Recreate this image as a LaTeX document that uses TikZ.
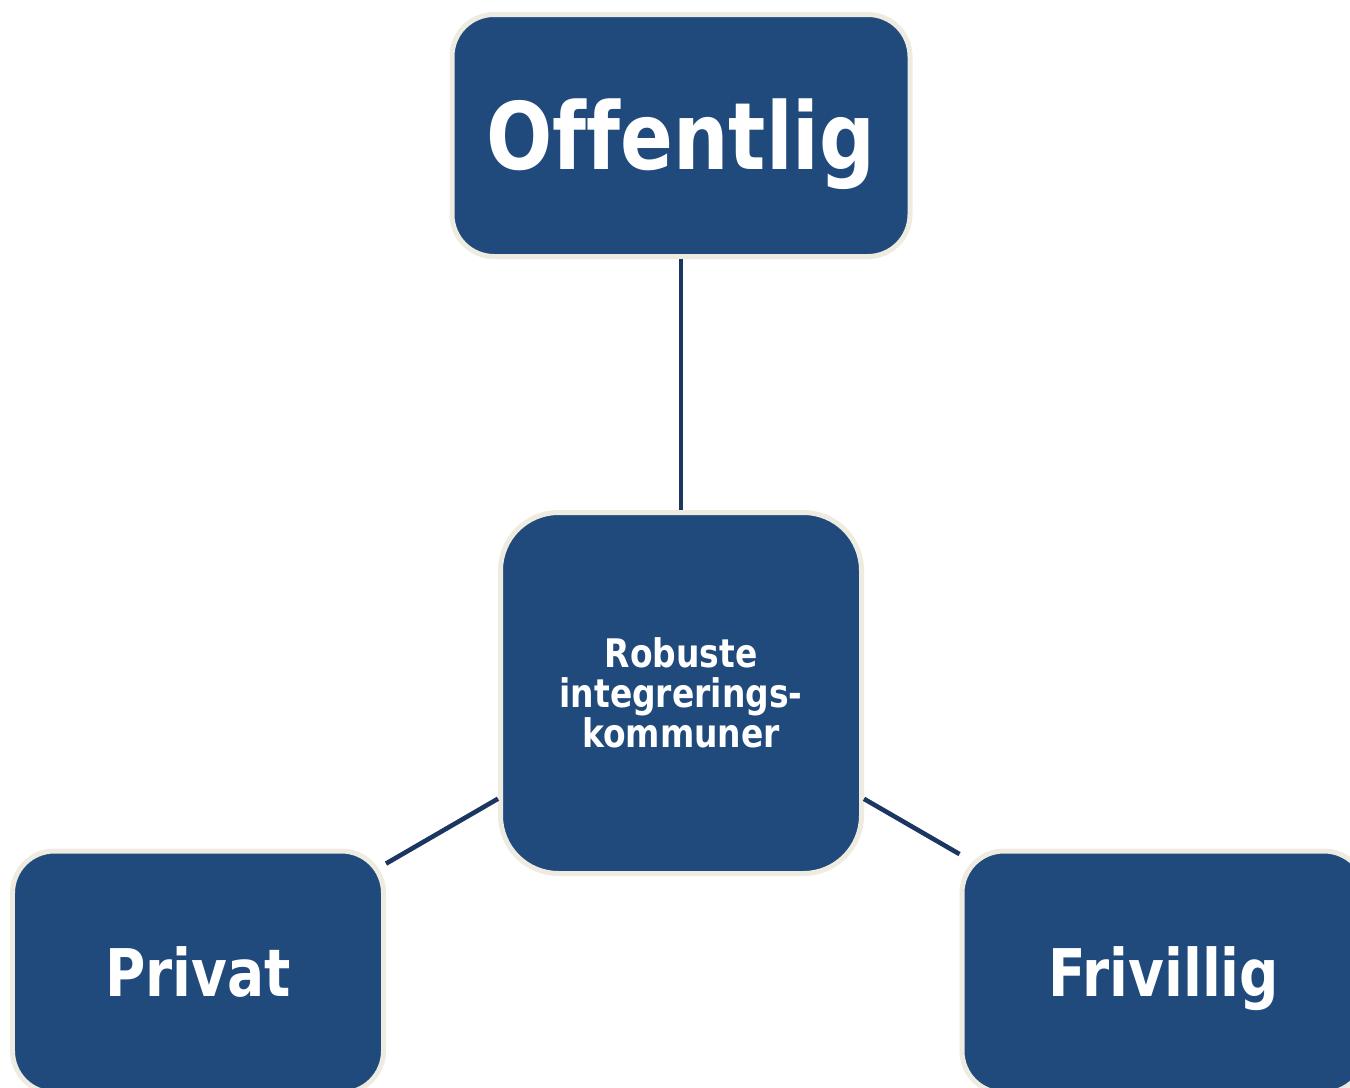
\documentclass[tikz,border=0pt]{standalone}
\usepackage{fontspec}
\newfontfamily\boxfont{DejaVu Sans Condensed}[FakeStretch=0.93,Ligatures=CommonOff]
\definecolor{boxblue}{HTML}{214A7C}
\definecolor{boxrim}{HTML}{EEEBE0}
\definecolor{linknavy}{HTML}{1B3661}
\tikzset{
  sector/.style={draw=boxrim,line width=0.05cm,fill=boxblue,text=white,rounded corners=0.42cm,minimum height=2.42cm,text height=#1,text depth=0pt,font=\boxfont\bfseries},
  sector/.default=0.48cm,
  hub/.style={draw=boxrim,line width=0.05cm,fill=boxblue,text=white,rounded corners=0.58cm,minimum width=3.61cm,minimum height=3.61cm,align=center},
  link/.style={draw=linknavy,line width=0.046cm}
}

\begin{document}
\begin{tikzpicture}
\useasboundingbox (0,0) rectangle (13.5,-10.88);
\node[hub,font=\boxfont\bfseries\fontsize{11.2}{11.4}\selectfont] (kommuner) at (6.81,-6.93) {Robuste\\ integrerings-\\ kommuner};
\node[sector=0.67cm,minimum width=4.58cm,font=\boxfont\bfseries\fontsize{26.5}{30}\selectfont] (offentlig) at (6.81,-1.355) {Offentlig};
\node[sector,minimum width=3.71cm,font=\boxfont\bfseries\fontsize{18.7}{22}\selectfont] (privat) at (1.98,-9.72) {Privat};
\node[sector,minimum width=4.04cm,font=\boxfont\bfseries\fontsize{18.7}{22}\selectfont] (frivillig) at (11.64,-9.72) {Frivillig};

\draw[link] (kommuner) -- (offentlig); \draw[link] (kommuner) -- (privat); \draw[link] (kommuner) -- (frivillig);
\end{tikzpicture}
\end{document}
